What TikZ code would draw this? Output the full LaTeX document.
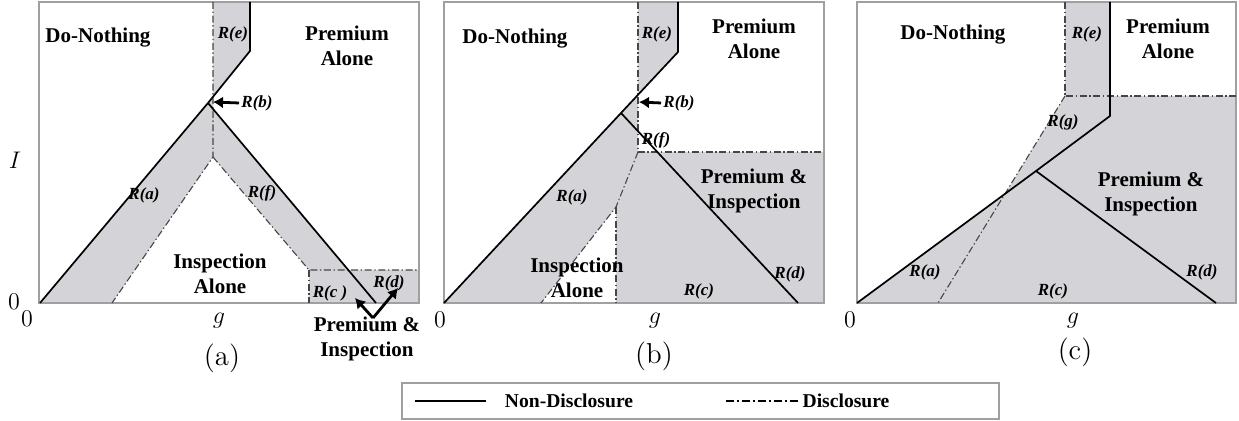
\documentclass[tikz,border=0pt]{standalone}
\usepackage{fontspec}
\newfontfamily\labelfont{Liberation Serif}
\usetikzlibrary{arrows.meta}
\usetikzlibrary{positioning}
\definecolor{regionGray}{RGB}{212,212,216}
\definecolor{boxGray}{RGB}{160,160,160}
\definecolor{dashGray}{RGB}{70,70,70}

\begin{document}
\begin{tikzpicture}[%%
  x=0.5pt,y=-0.5pt,%%
  boxDecorate/.style={draw=boxGray,line width=0.6pt},%%
  solidDecorate/.style={line width=0.85pt,line join=miter},%%
  dashDecorate/.style={%%
    line width=0.55pt,draw=dashGray,dash pattern=on 3.5pt off 1.3pt on 0.7pt off 1.3pt%%
  },%%
  fillDecorate/.style={fill=regionGray,draw=none},%%
  arrowDecorate/.style={-{Latex[length=5pt,width=6pt]},line width=1.4pt},%%
  nameDecorate/.style={font=\labelfont\fontsize{10.5}{12.5}\selectfont\bfseries,align=center,inner sep=1pt},%%
  regionDecorate/.style={font=\labelfont\fontsize{8.5}{9}\selectfont\bfseries\itshape,inner sep=1pt},%%
  legendDecorate/.style={font=\labelfont\fontsize{9.8}{11}\selectfont\bfseries,inner sep=1pt},%%
  axisDecorate/.style={font=\large,inner sep=0pt},%%
  captionDecorate/.style={font=\Large,inner sep=0pt}%%
]
\useasboundingbox (0,0) rectangle (1239,421);
%%
%% Global variables.
\pgfmathsetmacro{\Ya}{2}
\pgfmathsetmacro{\Yb}{303}
%%
%% Panel (a): corners and boundaries.
\coordinate (aO) at (40,\Yb);
\coordinate (aV) at (208,103);
\coordinate (aK) at (250,51);
\coordinate (aT) at (250,\Ya);
\coordinate (aD) at (376,\Yb);
\coordinate (aE) at (213,\Ya);
\coordinate (aP) at (213,157);
\coordinate (aL) at (112,\Yb);
\coordinate (aQ) at (309,270);
\coordinate (aR) at (419,270);
\coordinate (aS) at (309,\Yb);
\coordinate (aX) at (intersection of aV--aK and aE--aP);
\coordinate (aY) at (intersection of aV--aD and aE--aP);
\coordinate (aZ) at (intersection of aV--aD and aQ--aR);
\fill[fillDecorate] (aE) -- (aT) -- (aK) -- (aX) -- cycle;
\fill[fillDecorate] (aO) -- (aV) -- (aX) -- (aY) -- (aZ) -- (aR) -- (419,\Yb)
  -- (aS) -- (aQ) -- (aP) -- (aL) -- cycle;
\draw[boxDecorate] (39,\Ya) rectangle (419,\Yb);
\draw[dashDecorate] (aE) -- (aP) -- (aL);
\draw[dashDecorate] (aP) -- (aQ) -- (aR);
\draw[dashDecorate] (aQ) -- (aS);
\draw[solidDecorate] (aO) -- (aV) -- (aK) -- (aT);
\draw[solidDecorate] (aV) -- (aD);
%%
%% Panel (a): labels.
\node[nameDecorate] (aNothing) at (98,38) {Do-Nothing};
\node[nameDecorate] (aPremium) at (347,46) {Premium\\Alone};
\node[nameDecorate] (aInspect) at (220,274) {Inspection\\Alone};
\node[nameDecorate] (aBoth) at (367,339) {Premium \&\\Inspection};
\node[regionDecorate] (aRe) at (233,34) {R(e)};
\node[regionDecorate] (aRb) at (257,103) {R(b)};
\node[regionDecorate] (aRa) at (144,195) {R(a)};
\node[regionDecorate] (aRf) at (262,193) {R(f)};
\node[regionDecorate] (aRc) at (330,293) {R(c )};
\node[regionDecorate] (aRd) at (389,283) {R(d)};
\node[axisDecorate] (aI) at (15,160) {$I$};
\node[axisDecorate] (aZeroI) at (14,302) {$0$};
\node[axisDecorate] (aZeroG) at (27,319) {$0$};
\node[axisDecorate] (aG) at (219,321) {$g$};
\node[captionDecorate] (aCap) at (222,358) {(a)};
\coordinate (aPb) at (213,102);
\draw[arrowDecorate] (aRb.west) -- (aPb);
\coordinate (aVee) at (373,318);
\coordinate (aVl) at (355,298);
\coordinate (aVr) at (398,288);
\draw[arrowDecorate] (aVee) -- (aVl);
\draw[arrowDecorate] (aVee) -- (aVr);
%%
%% Panel (b): corners and boundaries.
\coordinate (bO) at (444,\Yb);
\coordinate (bV) at (621,113);
\coordinate (bK) at (678,52);
\coordinate (bT) at (678,\Ya);
\coordinate (bD) at (798,\Yb);
\coordinate (bE) at (638,\Ya);
\coordinate (bP) at (638,152);
\coordinate (bR) at (824,152);
\coordinate (bM) at (616,207);
\coordinate (bL) at (541,\Yb);
\coordinate (bS) at (616,\Yb);
\coordinate (bX) at (intersection of bV--bK and bE--bP);
\fill[fillDecorate] (bE) -- (bT) -- (bK) -- (bX) -- cycle;
\fill[fillDecorate] (bO) -- (bV) -- (bX) -- (bP) -- (bR) -- (824,\Yb)
  -- (bS) -- (bM) -- (bL) -- cycle;
\draw[boxDecorate] (444,\Ya) rectangle (824,\Yb);
\draw[dashDecorate] (bE) -- (bP) -- (bR);
\draw[dashDecorate] (bP) -- (bM) -- (bL);
\draw[dashDecorate] (bM) -- (bS);
\draw[solidDecorate] (bO) -- (bV) -- (bK) -- (bT);
\draw[solidDecorate] (bV) -- (bD);
%%
%% Panel (b): labels.
\node[nameDecorate] (bNothing) at (515,39) {Do-Nothing};
\node[nameDecorate] (bPremium) at (754,39) {Premium\\Alone};
\node[nameDecorate] (bBoth) at (754,191) {Premium \&\\Inspection};
\node[nameDecorate] (bInspect) at (577,278) {Inspection\\Alone};
\node[regionDecorate] (bRe) at (657,34) {R(e)};
\node[regionDecorate] (bRb) at (679,103) {R(b)};
\node[regionDecorate] (bRf) at (656,140) {R(f)};
\node[regionDecorate] (bRa) at (572,197) {R(a)};
\node[regionDecorate] (bRc) at (699,291) {R(c)};
\node[regionDecorate] (bRd) at (790,274) {R(d)};
\node[axisDecorate] (bZero) at (440,320) {$0$};
\node[axisDecorate] (bG) at (655,321) {$g$};
\node[captionDecorate] (bCap) at (654,356) {(b)};
\coordinate (bPb) at (639,102);
\draw[arrowDecorate] (bRb.west) -- (bPb);
%%
%% Panel (c): corners and boundaries.
\coordinate (cO) at (857,\Yb);
\coordinate (cV) at (1036,171);
\coordinate (cK) at (1110,116);
\coordinate (cT) at (1110,\Ya);
\coordinate (cD) at (1216,\Yb);
\coordinate (cE) at (1065,\Ya);
\coordinate (cP) at (1065,96);
\coordinate (cR) at (1236,96);
\coordinate (cL) at (938,\Yb);
\coordinate (cX) at (intersection of cO--cV and cP--cL);
\coordinate (cW) at (intersection of cK--cT and cP--cR);
\fill[fillDecorate] (cO) -- (cX) -- (cP) -- (cE) -- (cT) -- (cW) -- (cR)
  -- (1236,\Yb) -- cycle;
\draw[boxDecorate] (857,\Ya) rectangle (1236,\Yb);
\draw[dashDecorate] (cE) -- (cP) -- (cR);
\draw[dashDecorate] (cP) -- (cL);
\draw[solidDecorate] (cO) -- (cV) -- (cK) -- (cT);
\draw[solidDecorate] (cV) -- (cD);
%%
%% Panel (c): labels.
\node[nameDecorate] (cNothing) at (953,35) {Do-Nothing};
\node[nameDecorate] (cPremium) at (1168,39) {Premium\\Alone};
\node[nameDecorate] (cBoth) at (1151,194) {Premium \&\\Inspection};
\node[regionDecorate] (cRe) at (1087,34) {R(e)};
\node[regionDecorate] (cRg) at (1063,122) {R(g)};
\node[regionDecorate] (cRa) at (925,272) {R(a)};
\node[regionDecorate] (cRc) at (1053,291) {R(c)};
\node[regionDecorate] (cRd) at (1202,272) {R(d)};
\node[axisDecorate] (cZero) at (850,320) {$0$};
\node[axisDecorate] (cG) at (1073,321) {$g$};
\node[captionDecorate] (cCap) at (1075,352) {(c)};
%%
%% Legend.
\draw[boxDecorate] (402,383) rectangle (999,419);
\coordinate (lgSolidA) at (415,401);
\coordinate (lgSolidB) at (486,401);
\coordinate (lgDashA) at (726,401);
\coordinate (lgDashB) at (800,401);
\draw[solidDecorate] (lgSolidA) -- (lgSolidB);
\draw[solidDecorate,dash pattern=on 4pt off 1.5pt on 1pt off 1.5pt] (lgDashA) -- (lgDashB);
\node[legendDecorate] (lgSolid) at (569,401) {Non-Disclosure};
\node[legendDecorate] (lgDash) at (846,401) {Disclosure};
\end{tikzpicture}
\end{document}
